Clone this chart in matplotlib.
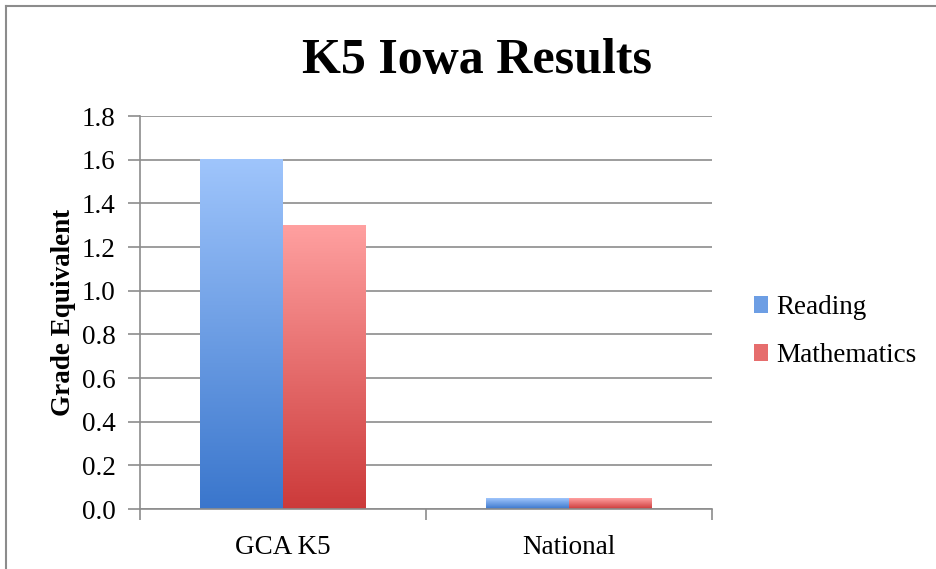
import matplotlib
matplotlib.use("Agg")
import matplotlib.pyplot as plt
import numpy as np
from matplotlib.patches import Rectangle
from matplotlib.colors import LinearSegmentedColormap

categories = ["GCA K5", "National"]
series_names = ["Reading", "Mathematics"]
reading = [1.6, 0.05]
mathematics = [1.3, 0.05]
yticks = [0.0, 0.2, 0.4, 0.6, 0.8, 1.0, 1.2, 1.4, 1.6, 1.8]

plt.rcParams['font.family'] = ['Liberation Serif', 'DejaVu Serif']

fig = plt.figure(figsize=(9.36, 5.69), dpi=100)
ax = fig.add_axes([0.1496, 0.1054, 0.611, 0.6907])

grid_c = "#8c8c8c"
fs = 19.5
ax.set_xlim(-0.5, 1.5)
ax.set_ylim(0, 1.8)
ax.set_yticks(yticks)
ax.set_yticklabels([f"{v:.1f}" for v in yticks], fontsize=fs)
ax.yaxis.grid(True, color=grid_c, linewidth=1.2)
ax.set_axisbelow(True)
ax.set_xticks([-0.5, 0.5, 1.5], minor=False)
ax.set_xticklabels([])
ax.set_xticks([0, 1], minor=True)
ax.set_xticklabels(categories, minor=True, fontsize=fs)
ax.tick_params(axis='x', which='minor', length=0, pad=19)
ax.tick_params(axis='x', which='major', length=8, color=grid_c, width=1.2)
ax.tick_params(axis='y', length=9, color=grid_c, width=1.2, pad=8.5)
for s in ['top', 'right']:
    ax.spines[s].set_visible(False)
for s in ['left', 'bottom']:
    ax.spines[s].set_color(grid_c)
    ax.spines[s].set_linewidth(1.2)

cmap_r = LinearSegmentedColormap.from_list("r", ["#3a76cc", "#9fc5fc"])
cmap_m = LinearSegmentedColormap.from_list("m", ["#cc3a3a", "#ffa0a0"])
width = 0.29
x = np.arange(len(categories))
for vals, off, cmap, name in [(reading, -width/2, cmap_r, series_names[0]),
                              (mathematics, width/2, cmap_m, series_names[1])]:
    bars = ax.bar(x + off, vals, width, color='none', edgecolor='none', label=name)
    grad = np.linspace(0, 1, 256).reshape(-1, 1)
    for b in bars:
        bx, by = b.get_x(), b.get_y()
        bw, bh = b.get_width(), b.get_height()
        ax.imshow(grad, cmap=cmap, origin='lower', aspect='auto',
                  extent=[bx, bx + bw, by, by + bh], zorder=2,
                  vmin=0, vmax=1)
ax.set_xlim(-0.5, 1.5)
ax.set_ylim(0, 1.8)

ax.set_ylabel("Grade Equivalent", fontsize=fs, fontweight='bold', labelpad=4.5)

handles = []
for cmap in [cmap_r, cmap_m]:
    handles.append(Rectangle((0, 0), 1, 1, facecolor=cmap(0.5), edgecolor='none'))
fig.legend(handles, series_names, loc='center left', bbox_to_anchor=(0.779, 0.417),
           frameon=False, fontsize=fs, handlelength=0.55, handleheight=0.55,
           handletextpad=0.3, labelspacing=0.85)

fig.text(0.51, 0.893, "K5 Iowa Results", ha='center', va='center',
         fontsize=36, fontweight='bold')

# outer frame (left and top edges)
fig.add_artist(plt.Line2D([0.006, 0.006], [0, 0.99], color="#8c8c8c", lw=1.5,
                          transform=fig.transFigure))
fig.add_artist(plt.Line2D([0.006, 1.0], [0.99, 0.99], color="#8c8c8c", lw=1.5,
                          transform=fig.transFigure))

fig.savefig("out.png", dpi=100)
